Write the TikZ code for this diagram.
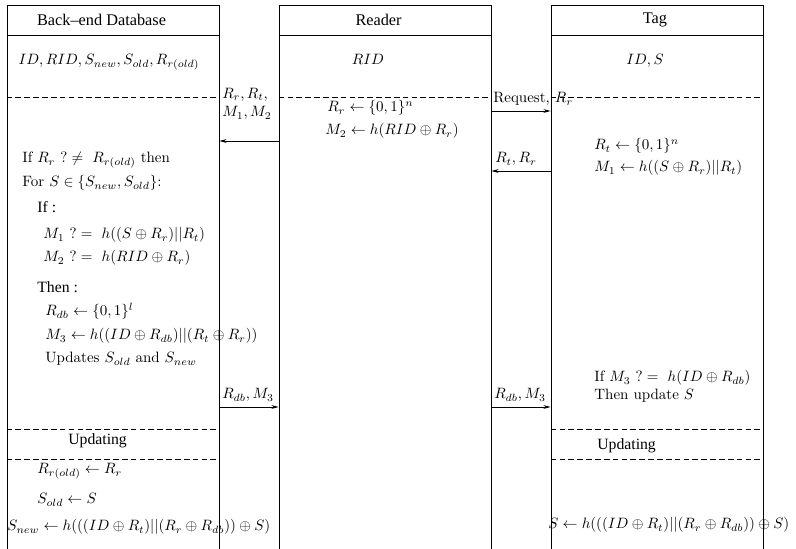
\RequirePackage{fix-cm}
\documentclass[tikz,border=0pt]{standalone}
\usepackage{fontspec}
\newfontfamily\timesfont{Liberation Serif}
\usetikzlibrary{arrows.meta,positioning}

\begin{document}
\begin{tikzpicture}[x=0.7pt, y=-0.7pt, font=\fontsize{10.5}{12.8}\selectfont, line width=0.5pt,
  head/.style={draw, minimum width=148.4pt, minimum height=21pt, inner sep=0pt, font=\fontsize{11.4}{13}\selectfont\timesfont},
  col/.style={draw, minimum width=148.4pt, minimum height=380pt, inner sep=0pt},
  txt/.style={anchor=base west, inner sep=0pt},
  ctr/.style={anchor=base, inner sep=0pt},
  tms/.style={txt, font=\fontsize{11}{13}\selectfont\timesfont},
  sep/.style={dash pattern=on 4pt off 2.2pt},
  msg/.style={-{Stealth[length=5pt,width=2.6pt]}}]
  \clip (0,0) rectangle (796,549);
  \node[head] (dbh) at (113,20) {Back–end Database\hspace*{16pt}};
  \node[head, right=41.5pt of dbh] (rdh) {Reader\hspace*{9pt}};
  \node[head, right=41.5pt of rdh] (tgh) {Tag\hspace*{3pt}};
  \node[col, below=0pt of dbh] (db) {};
  \node[col, below=0pt of rdh] (rd) {};
  \node[col, below=0pt of tgh] (tg) {};
  \foreach \c in {db,rd,tg}
    \draw[sep] (\c.west |- 0,97) -- (\c.east |- 0,97);
  \foreach \c in {db,tg} {
    \draw[sep] (\c.west |- 0,429) -- (\c.east |- 0,429);
    \draw[sep] (\c.west |- 0,459) -- (\c.east |- 0,459);
  }

  \node[ctr] (dbk) at (109,65) {$ID, RID, S_{new}, S_{old}, R_{r(old)}$};
  \node[ctr] (rdk) at (368,65) {$RID$};
  \node[ctr] (tgk) at (645,65) {$ID, S$};

  \node[txt] (r1) at (327,112) {$R_r \leftarrow \{0,1\}^n$};
  \node[txt] (r2) at (325,135) {$M_2 \leftarrow h(RID \oplus R_r)$};
  \node[txt] (t1) at (594,150) {$R_t \leftarrow \{0,1\}^n$};
  \node[txt] (t2) at (594,172) {$M_1 \leftarrow h((S \oplus R_r)||R_t)$};

  \node[txt] (m1) at (493,103) {Request, $R_r$};
  \draw[msg] (rd.east |- 0,111) -- (tg.west |- 0,111);
  \node[txt, align=left] (m2) at (222,117) {$R_r, R_t,$\\$M_1, M_2$};
  \draw[msg] (rd.west |- 0,141) -- (db.east |- 0,141);
  \node[txt] (m3) at (495,163) {$R_t, R_r$};
  \draw[msg] (tg.west |- 0,171) -- (rd.east |- 0,171);

  \node[txt] (d1) at (22,163) {If $R_r\ ?\neq\ R_{r(old)}$ then};
  \node[txt] (d2) at (22,187) {For $S \in \{S_{new}, S_{old}\}$:};
  \node[tms] (d3) at (37,213) {If :};
  \node[txt] (d4) at (43,239) {$M_1\ ?=\ h((S \oplus R_r)||R_t)$};
  \node[txt] (d5) at (43,262) {$M_2\ ?=\ h(RID \oplus R_r)$};
  \node[tms] (d6) at (37,293) {Then :};
  \node[txt] (d7) at (45,316) {$R_{db} \leftarrow \{0,1\}^l$};
  \node[txt] (d8) at (45,340) {$M_3 \leftarrow h((ID \oplus R_{db})||(R_t \oplus R_r))$};
  \node[txt] (d9) at (45,363) {Updates $S_{old}$ and $S_{new}$};

  \node[txt] (m4) at (222,399) {$R_{db}, M_3$};
  \draw[msg] (db.east |- 0,407) -- (rd.west |- 0,407);
  \node[txt] (m5) at (494,399) {$R_{db}, M_3$};
  \draw[msg] (rd.east |- 0,407) -- (tg.west |- 0,407);

  \node[txt] (t3) at (594,382) {If $M_3\ ?=\ h(ID \oplus R_{db})$};
  \node[txt] (t4) at (594,400) {Then update $S$};

  \node[tms] (du) at (68,445) {Updating};
  \node[tms] (tu) at (597,450) {Updating};

  \node[txt] (u1) at (37,474) {$R_{r(old)} \leftarrow R_r$};
  \node[txt] (u2) at (37,504) {$S_{old} \leftarrow S$};
  \node[txt] (u3) at (7,531) {$S_{new} \leftarrow h(((ID \oplus R_t)||(R_r \oplus R_{db})) \oplus S)$};
  \node[txt] (u4) at (548,529) {$S \leftarrow h(((ID \oplus R_t)||(R_r \oplus R_{db})) \oplus S)$};
\end{tikzpicture}
\end{document}
